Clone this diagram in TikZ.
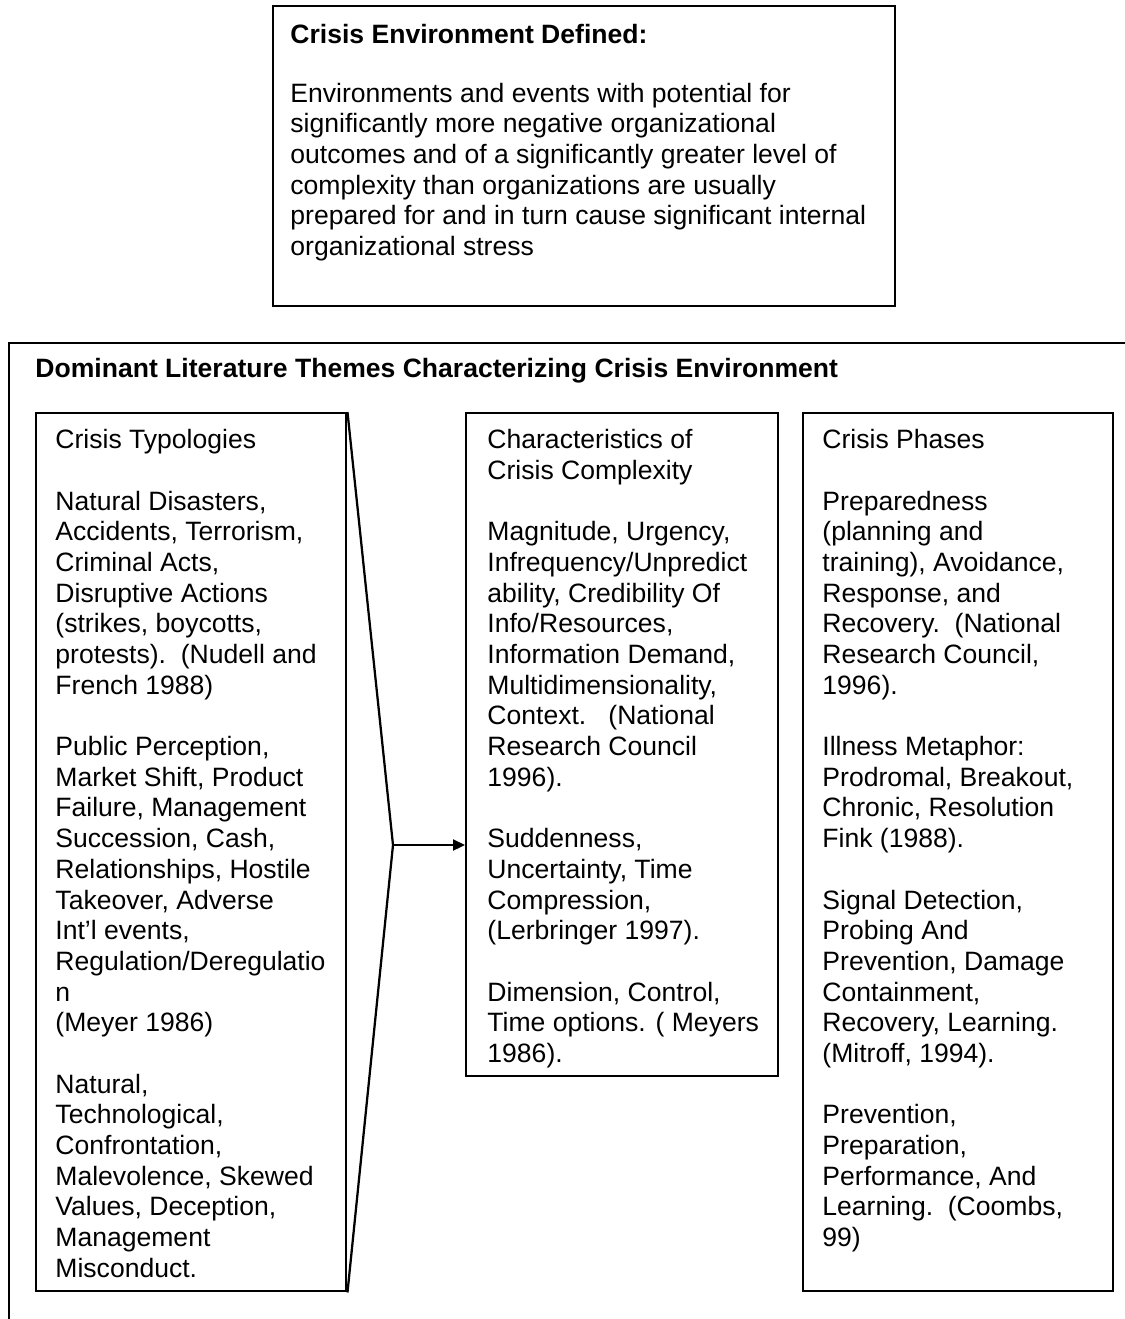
\documentclass[tikz,border=0pt]{standalone}
\usepackage{fontspec}
\setmainfont{Liberation Sans}
\usetikzlibrary{arrows.meta,calc}
\newcommand\pxs{0.44444pt}
\tikzset{
  frame/.style={draw, line width=1.1pt, inner sep=0pt, anchor=north west},
  body/.style={anchor=north west, inner sep=0pt, align=left,
               font=\fontsize{11.8}{13.64}\selectfont},
  link/.style={line width=1pt},
}
\begin{document}
\begin{tikzpicture}[x=0.44444pt, y=-0.44444pt]
\useasboundingbox (0,0) rectangle (1125,1319);

% outer frame, running past the page edge on the right and bottom
\begin{scope}
  \clip (0,0) rectangle (1125,1319);
  \node[frame, minimum width=1140*\pxs, minimum height=1000*\pxs] (outer) at (8,342) {};
\end{scope}

% definition box
\node[frame, minimum width=622*\pxs, minimum height=300*\pxs] (defbox) at (272,5) {};
\node[body] (deftext) at ($(defbox.north west)+(18,19)$) {%
\textbf{Crisis Environment Defined:}\\[0.9\baselineskip]
Environments and events with potential for\\
significantly more negative organizational\\
outcomes and of a significantly greater level of\\
complexity than organizations are usually\\
prepared for and in turn cause significant internal\\
organizational stress};

% heading of the themes frame
\node[body] (themes) at (35,358) {\textbf{Dominant Literature Themes Characterizing Crisis Environment}};

% three theme columns
\node[frame, minimum width=310*\pxs, minimum height=878*\pxs] (typ) at (35,412) {};
\node[frame, minimum width=312*\pxs, minimum height=663*\pxs] (cplx) at (465,412) {};
\node[frame, minimum width=310*\pxs, minimum height=878*\pxs] (phase) at (802,412) {};

\node[body] (typtext) at ($(typ.north west)+(20,17)$) {%
Crisis Typologies\\[\baselineskip]
Natural Disasters,\\
Accidents, Terrorism,\\
Criminal Acts,\\
Disruptive Actions\\
(strikes, boycotts,\\
protests).\ \ (Nudell and\\
French 1988)\\[\baselineskip]
Public Perception,\\
Market Shift, Product\\
Failure, Management\\
Succession, Cash,\\
Relationships, Hostile\\
Takeover, Adverse\\
Int’l events,\\
Regulation/Deregulatio\\
n\\
(Meyer 1986)\\[\baselineskip]
Natural,\\
Technological,\\
Confrontation,\\
Malevolence, Skewed\\
Values, Deception,\\
Management\\
Misconduct.};

\node[body] (cplxtext) at ($(cplx.north west)+(22,17)$) {%
Characteristics of\\
Crisis Complexity\\[\baselineskip]
Magnitude, Urgency,\\
Infrequency/Unpredict\\
ability, Credibility Of\\
Info/Resources,\\
Information Demand,\\
Multidimensionality,\\
Context.\ \ \ (National\\
Research Council\\
1996).\\[\baselineskip]
Suddenness,\\
Uncertainty, Time\\
Compression,\\
(Lerbringer 1997).\\[\baselineskip]
Dimension, Control,\\
Time options. ( Meyers\\
1986).};

\node[body] (phasetext) at ($(phase.north west)+(20,17)$) {%
Crisis Phases\\[\baselineskip]
Preparedness\\
(planning and\\
training), Avoidance,\\
Response, and\\
Recovery.\ \ (National\\
Research Council,\\
1996).\\[\baselineskip]
Illness Metaphor:\\
Prodromal, Breakout,\\
Chronic, Resolution\\
Fink (1988).\\[\baselineskip]
Signal Detection,\\
Probing And\\
Prevention, Damage\\
Containment,\\
Recovery, Learning.\\
(Mitroff, 1994).\\[\baselineskip]
Prevention,\\
Preparation,\\
Performance, And\\
Learning.\ \ (Coombs,\\
99)};

% funnel from the typologies column into the complexity column
\coordinate (tip) at (393,845);
\draw[link] (typ.north east) -- (tip) -- (typ.south east);
\draw[link, -{Triangle[length=12*\pxs, width=11*\pxs]}] (tip) -- (tip -| cplx.west);
\end{tikzpicture}
\end{document}
